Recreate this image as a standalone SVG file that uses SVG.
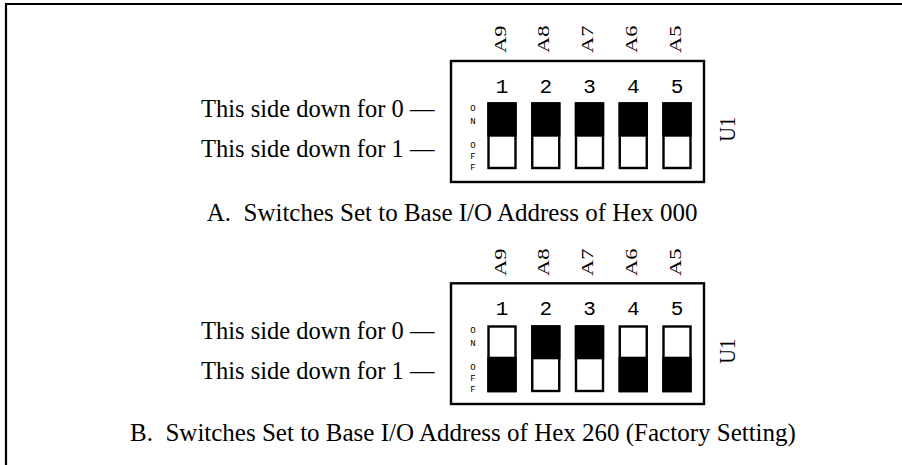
<svg xmlns="http://www.w3.org/2000/svg" width="902" height="465" viewBox="0 0 902 465">
<style>
.frame{stroke:#000;stroke-width:2.2;fill:none}
.box{fill:#fff;stroke:#000;stroke-width:2.4}
.sw{fill:none;stroke:#000;stroke-width:2.4}
.blk{fill:#000}
.serif{font-family:"Liberation Serif","Times New Roman",serif;fill:#000}
.lbl{font-size:24.5px}
.cap{font-size:25px}
.addr{font-size:16.6px}
.u1{font-size:24px}
.mono{font-family:"Liberation Mono","Courier New",monospace;fill:#000}
.num{font-size:21px;text-anchor:middle}
.onoff{font-size:9px;text-anchor:middle}
</style>
<rect width="902" height="465" fill="#fff"/>
<g id="frame">
<line class="frame" x1="5" y1="4" x2="902" y2="4"/>
<line class="frame" x1="6" y1="4" x2="6" y2="465"/>
</g>

<!-- Panel A -->
<g id="panelA">
<g id="A-labels">
<text class="serif lbl" x="201" y="117">This side down for 0 —</text>
<text class="serif lbl" x="201" y="156.5">This side down for 1 —</text>
</g>
<rect id="A-box" class="box" x="451" y="61" width="253" height="121"/>
<g id="A-onoff" class="mono onoff">
<text x="473" y="111">O</text>
<text x="473" y="124">N</text>
<text x="473" y="148">O</text>
<text x="473" y="159">F</text>
<text x="473" y="170">F</text>
</g>
<g id="A-addr" class="serif addr">
<text transform="translate(505.5,53) rotate(-90)" textLength="27.5" lengthAdjust="spacingAndGlyphs">A9</text>
<text transform="translate(549.2,53) rotate(-90)" textLength="27.5" lengthAdjust="spacingAndGlyphs">A8</text>
<text transform="translate(593,53) rotate(-90)" textLength="27.5" lengthAdjust="spacingAndGlyphs">A7</text>
<text transform="translate(636.8,53) rotate(-90)" textLength="27.5" lengthAdjust="spacingAndGlyphs">A6</text>
<text transform="translate(680.5,53) rotate(-90)" textLength="27.5" lengthAdjust="spacingAndGlyphs">A5</text>
</g>
<g id="A-sw1"><text class="mono num" x="502" y="92.7">1</text><rect class="blk" x="487.3" y="102.3" width="29.4" height="34.4"/><rect class="sw" x="488.5" y="103.5" width="27" height="64.5"/></g>
<g id="A-sw2"><text class="mono num" x="545.75" y="92.7">2</text><rect class="blk" x="531.05" y="102.3" width="29.4" height="34.4"/><rect class="sw" x="532.25" y="103.5" width="27" height="64.5"/></g>
<g id="A-sw3"><text class="mono num" x="589.5" y="92.7">3</text><rect class="blk" x="574.8" y="102.3" width="29.4" height="34.4"/><rect class="sw" x="576" y="103.5" width="27" height="64.5"/></g>
<g id="A-sw4"><text class="mono num" x="633.25" y="92.7">4</text><rect class="blk" x="618.55" y="102.3" width="29.4" height="34.4"/><rect class="sw" x="619.75" y="103.5" width="27" height="64.5"/></g>
<g id="A-sw5"><text class="mono num" x="677" y="92.7">5</text><rect class="blk" x="662.3" y="102.3" width="29.4" height="34.4"/><rect class="sw" x="663.5" y="103.5" width="27" height="64.5"/></g>
<text id="A-U1" class="serif u1" transform="translate(735,141.7) rotate(-90)" textLength="25" lengthAdjust="spacingAndGlyphs">U1</text>
<text id="A-caption" class="serif cap" x="206.7" y="221" xml:space="preserve">A.  Switches Set to Base I/O Address of Hex 000</text>
</g>

<!-- Panel B -->
<g id="panelB">
<g id="B-labels">
<text class="serif lbl" x="201" y="339">This side down for 0 —</text>
<text class="serif lbl" x="201" y="378.5">This side down for 1 —</text>
</g>
<rect id="B-box" class="box" x="451" y="283.3" width="253" height="120.7"/>
<g id="B-onoff" class="mono onoff">
<text x="473" y="333">O</text>
<text x="473" y="346">N</text>
<text x="473" y="370">O</text>
<text x="473" y="381">F</text>
<text x="473" y="392">F</text>
</g>
<g id="B-addr" class="serif addr">
<text transform="translate(505.5,276) rotate(-90)" textLength="27.5" lengthAdjust="spacingAndGlyphs">A9</text>
<text transform="translate(549.2,276) rotate(-90)" textLength="27.5" lengthAdjust="spacingAndGlyphs">A8</text>
<text transform="translate(593,276) rotate(-90)" textLength="27.5" lengthAdjust="spacingAndGlyphs">A7</text>
<text transform="translate(636.8,276) rotate(-90)" textLength="27.5" lengthAdjust="spacingAndGlyphs">A6</text>
<text transform="translate(680.5,276) rotate(-90)" textLength="27.5" lengthAdjust="spacingAndGlyphs">A5</text>
</g>
<g id="B-sw1"><text class="mono num" x="502" y="315">1</text><rect class="blk" x="487.3" y="356.7" width="29.4" height="35.6"/><rect class="sw" x="488.5" y="326.5" width="27" height="64.5"/></g>
<g id="B-sw2"><text class="mono num" x="545.75" y="315">2</text><rect class="blk" x="531.05" y="325.3" width="29.4" height="34"/><rect class="sw" x="532.25" y="326.5" width="27" height="64.5"/></g>
<g id="B-sw3"><text class="mono num" x="589.5" y="315">3</text><rect class="blk" x="574.8" y="325.3" width="29.4" height="34"/><rect class="sw" x="576" y="326.5" width="27" height="64.5"/></g>
<g id="B-sw4"><text class="mono num" x="633.25" y="315">4</text><rect class="blk" x="618.55" y="356.7" width="29.4" height="35.6"/><rect class="sw" x="619.75" y="326.5" width="27" height="64.5"/></g>
<g id="B-sw5"><text class="mono num" x="677" y="315">5</text><rect class="blk" x="662.3" y="356.7" width="29.4" height="35.6"/><rect class="sw" x="663.5" y="326.5" width="27" height="64.5"/></g>
<text id="B-U1" class="serif u1" transform="translate(735,363.7) rotate(-90)" textLength="25" lengthAdjust="spacingAndGlyphs">U1</text>
<text id="B-caption" class="serif cap" x="130" y="441" xml:space="preserve">B.  Switches Set to Base I/O Address of Hex 260 (Factory Setting)</text>
</g>
<g id="connectors"/>
</svg>
